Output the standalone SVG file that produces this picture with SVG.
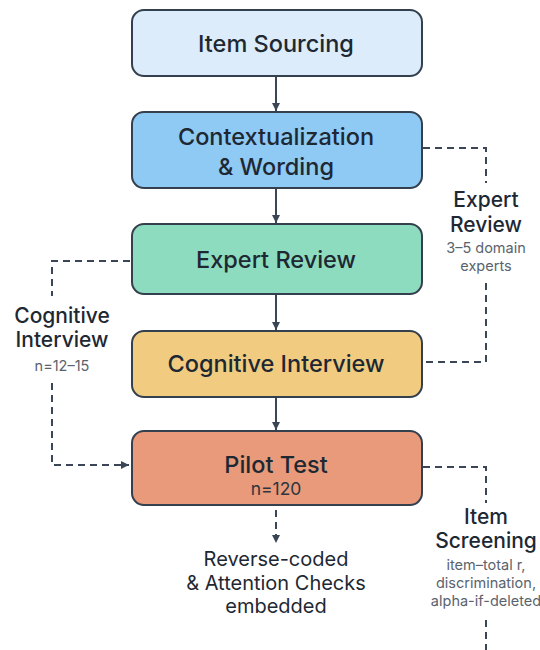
<svg xmlns="http://www.w3.org/2000/svg" width="540" height="650" viewBox="0 0 540 650">
  <defs>
    <marker id="arrow" viewBox="0 0 10 10" refX="10" refY="5" markerWidth="8" markerHeight="9" markerUnits="userSpaceOnUse" orient="auto">
      <path d="M0,0 L10,5 L0,10 Z" fill="#3a4656"/>
    </marker>
    <style>
      .box { stroke: #34404e; stroke-width: 2; }
      .label { font-family: Inter, "Liberation Sans", sans-serif; fill: #1e2833; text-anchor: middle; font-weight: 500; }
      .main { font-size: 23.5px; }
      .side { font-size: 21px; }
      .foot { font-size: 20px; font-weight: 400; }
      .small { font-family: Inter, "Liberation Sans", sans-serif; fill: #5a636d; text-anchor: middle; font-size: 14.5px; }
      .count { font-family: Inter, "Liberation Sans", sans-serif; fill: #2c3540; text-anchor: middle; font-size: 17.5px; }
      .flow { stroke: #3a4656; stroke-width: 2; fill: none; }
      .dash { stroke: #3a4656; stroke-width: 2; fill: none; stroke-dasharray: 7 5; }
    </style>
  </defs>
  <rect width="540" height="650" fill="#ffffff"/>

  <!-- connectors -->
  <g id="connectors">
    <line class="flow" x1="276" y1="76" x2="276" y2="111" marker-end="url(#arrow)"/>
    <line class="flow" x1="276" y1="188" x2="276" y2="223" marker-end="url(#arrow)"/>
    <line class="flow" x1="276" y1="294" x2="276" y2="330" marker-end="url(#arrow)"/>
    <line class="flow" x1="276" y1="397" x2="276" y2="430" marker-end="url(#arrow)"/>
    <!-- expert review loop -->
    <path class="dash" d="M423,148 H486 V183"/>
    <path class="dash" d="M486,283 V362 H423"/>
    <!-- cognitive interview loop -->
    <path class="dash" d="M130,261 H52 V296"/>
    <path class="dash" d="M52,383 V465 H129" marker-end="url(#arrow)"/>
    <!-- item screening -->
    <path class="dash" d="M423,467 H486 V503"/>
    <path class="dash" d="M486,620 V650"/>
    <!-- embedded checks -->
    <line class="dash" x1="276" y1="510" x2="276" y2="543" marker-end="url(#arrow)"/>
  </g>

  <g id="item-sourcing">
    <rect class="box" x="132" y="10" width="290" height="66" rx="12" fill="#dcecfb"/>
    <text class="label main" x="276" y="52">Item Sourcing</text>
  </g>

  <g id="contextualization">
    <rect class="box" x="132" y="112" width="290" height="76" rx="12" fill="#8ecaf4"/>
    <text class="label main" x="276" y="145">Contextualization</text>
    <text class="label main" x="276" y="175">&amp; Wording</text>
  </g>

  <g id="expert-review">
    <rect class="box" x="132" y="224" width="290" height="70" rx="12" fill="#8edcbf"/>
    <text class="label main" x="276" y="268">Expert Review</text>
  </g>

  <g id="cognitive-interview">
    <rect class="box" x="132" y="331" width="290" height="66" rx="12" fill="#f1cc80"/>
    <text class="label main" x="276" y="372">Cognitive Interview</text>
  </g>

  <g id="pilot-test">
    <rect class="box" x="132" y="431" width="290" height="74" rx="12" fill="#e89a7a"/>
    <text class="label main" x="276" y="473">Pilot Test</text>
    <text class="count" x="276" y="495">n=120</text>
  </g>

  <g id="note-expert-review">
    <text class="label side" x="486" y="207">Expert</text>
    <text class="label side" x="486" y="232">Review</text>
    <text class="small" x="486" y="253">3–5 domain</text>
    <text class="small" x="486" y="271">experts</text>
  </g>

  <g id="note-cognitive-interview">
    <text class="label side" x="62" y="323">Cognitive</text>
    <text class="label side" x="62" y="347">Interview</text>
    <text class="small" x="62" y="371">n=12–15</text>
  </g>

  <g id="note-item-screening">
    <text class="label side" x="486" y="524">Item</text>
    <text class="label side" x="486" y="548">Screening</text>
    <text class="small" x="486" y="570">item–total r,</text>
    <text class="small" x="486" y="588">discrimination,</text>
    <text class="small" x="486" y="606">alpha-if-deleted</text>
  </g>

  <g id="embedded-checks">
    <text class="label foot" x="276" y="566">Reverse-coded</text>
    <text class="label foot" x="276" y="590">&amp; Attention Checks</text>
    <text class="label foot" x="276" y="613">embedded</text>
  </g>
</svg>
